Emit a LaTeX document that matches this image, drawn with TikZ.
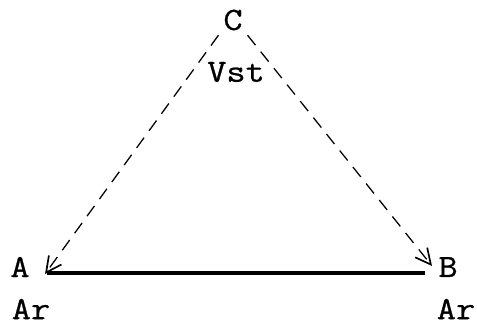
\documentclass[tikz,border=0pt]{standalone}
\usepackage{fontspec}
\usetikzlibrary{arrows.meta}
\newfontfamily\typefont[FakeStretch=1.15,FakeBold=0.8]{Latin Modern Mono}
\begin{document}
\begin{tikzpicture}[x=0.025cm,y=-0.025cm,font=\typefont\fontsize{23}{25}\selectfont]
        \useasboundingbox (0,0) rectangle (477,325);
        \node (C) at (233,20) {C};
        \node (Vst) at (236,72) {Vst};
        \node (A) at (20,267) {A};
        \node (B) at (448,267) {B};
        \node (ArA) at (31,309) {Ar};
        \node (ArB) at (456,309) {Ar};
        \coordinate (tipA) at (45,274);
        \coordinate (tipB) at (432,266);
        \coordinate (endA) at (47,273);
        \coordinate (endB) at (425,273);
        \draw [line width=0.9pt,dash pattern=on 9pt off 6pt,-{Straight Barb[length=11pt,width=11pt,line width=1.2pt]}] (C.south west) -- (tipA);
        \draw [line width=0.9pt,dash pattern=on 9pt off 6pt,-{Straight Barb[length=11pt,width=11pt,line width=1.2pt]}] (C.south east) -- (tipB);
        \draw [line width=2.8pt] (endA) -- (endB);
    \end{tikzpicture}
\end{document}
